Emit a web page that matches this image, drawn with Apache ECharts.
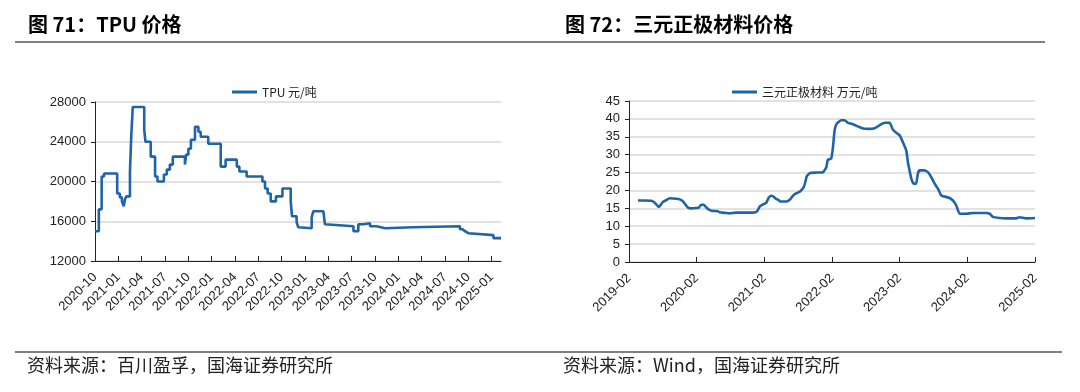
<!DOCTYPE html>
<html><head><meta charset="utf-8">
<script src="https://cdn.jsdelivr.net/npm/echarts@6/dist/echarts.min.js"></script>
<style>html,body{margin:0;padding:0;background:#fff}#c{width:1080px;height:392px}</style>
</head><body><div id="c"></div>
<script>
// ---- TPU price (元/吨) ----
const tpuDates = ['2020-10-01','2020-10-16','2020-10-27','2020-11-06','2020-12-27','2021-01-07','2021-01-15','2021-01-22','2021-01-27','2021-02-02',
  '2021-02-16','2021-02-21','2021-02-27','2021-04-11','2021-04-16','2021-05-06','2021-05-23','2021-06-02','2021-06-27','2021-07-08',
  '2021-07-20','2021-08-01','2021-09-18','2021-09-23','2021-10-01','2021-10-11','2021-10-27','2021-11-10','2021-11-19','2021-12-18',
  '2022-02-06','2022-02-25','2022-04-08','2022-04-18','2022-05-16','2022-07-17','2022-07-27','2022-08-07','2022-08-19','2022-09-09',
  '2022-10-04','2022-11-06','2022-11-11','2022-11-29','2022-12-05','2022-12-12','2023-01-27','2023-02-03','2023-03-12','2023-03-18',
  '2023-03-25','2023-07-08','2023-07-27','2023-08-16','2023-09-12','2023-10-07','2023-11-10','2024-02-28','2024-08-29','2024-09-09',
  '2024-09-18','2024-10-01','2025-01-08','2025-02-07'];
const tpuValues = [15000,17200,20500,20800,18800,18400,18000,17500,18200,18500,
  21000,24500,27500,25200,24000,22500,20500,20000,20700,21200,
  21700,22500,21700,22700,23300,24200,25500,25000,24500,23800,
  21500,22200,21500,21000,20500,20000,19300,18800,18000,18500,
  19300,18000,16500,15900,15400,15300,16400,17000,16800,15700,
  15500,15000,15700,15800,15500,15300,15400,15500,15200,15000,
  14800,14600,14300,14300];
const tpuTickLabels = ['2020-10','2021-01','2021-04','2021-07','2021-10','2022-01','2022-04','2022-07','2022-10',
  '2023-01','2023-04','2023-07','2023-10','2024-01','2024-04','2024-07','2024-10','2025-01'];
const tpuYMin = 12000, tpuYMax = 28000, tpuYStep = 4000;

// ---- NMC cathode price (万元/吨) ----
const nmcDates = ['2019-03-19','2019-04-24','2019-06-01','2019-06-17','2019-06-30','2019-07-09','2019-07-18','2019-08-02','2019-08-20','2019-09-07',
  '2019-10-13','2019-10-31','2019-11-18','2019-12-02','2019-12-15','2020-01-02','2020-01-29','2020-02-13','2020-02-25','2020-03-08',
  '2020-03-22','2020-04-01','2020-04-19','2020-05-24','2020-06-03','2020-07-08','2020-07-26','2020-09-01','2020-11-30','2020-12-18',
  '2020-12-27','2021-01-06','2021-01-24','2021-02-11','2021-02-25','2021-03-08','2021-03-22','2021-04-04','2021-04-18','2021-04-25',
  '2021-05-28','2021-06-15','2021-07-03','2021-07-17','2021-08-05','2021-08-17','2021-09-01','2021-09-10','2021-09-17','2021-10-05',
  '2021-11-07','2021-12-13','2022-01-01','2022-01-09','2022-01-27','2022-02-06','2022-02-15','2022-02-27','2022-03-20','2022-04-08',
  '2022-04-26','2022-05-23','2022-06-19','2022-07-16','2022-08-21','2022-09-18','2022-10-14','2022-11-11','2022-12-08','2022-12-25',
  '2023-01-13','2023-02-01','2023-02-18','2023-03-06','2023-03-15','2023-03-24','2023-04-03','2023-04-15','2023-04-29','2023-05-08',
  '2023-05-17','2023-06-13','2023-07-01','2023-07-19','2023-08-07','2023-08-25','2023-09-12','2023-09-30','2023-10-27','2023-11-14',
  '2023-12-02','2023-12-20','2024-01-25','2024-03-01','2024-05-12','2024-05-30','2024-06-17','2024-07-23','2024-08-28','2024-10-21',
  '2024-11-09','2024-12-15','2025-02-01'];
const nmcValues = [17.2,17.2,17.1,16.6,15.9,15.4,15.8,16.8,17.3,17.8,
  17.7,17.5,17.0,16.0,15.2,15.0,15.1,15.2,16.0,16.0,
  15.3,14.8,14.3,14.2,13.9,13.7,13.6,13.8,13.8,14.0,
  14.5,15.5,16.1,16.5,18.0,18.5,18.2,17.6,17.3,16.9,
  16.9,17.3,18.5,19.1,19.5,20.0,21.0,22.5,24.0,24.9,
  25.0,25.1,26.5,28.6,28.9,32.0,36.8,38.7,39.6,39.6,
  38.9,38.5,37.9,37.3,37.2,37.4,38.2,38.9,38.9,37.0,
  36.1,35.4,33.5,31.2,27.9,25.6,23.3,21.9,21.9,24.7,
  25.6,25.6,25.1,23.7,21.9,20.5,18.6,18.3,17.9,17.2,
  15.8,13.5,13.5,13.7,13.7,13.5,12.6,12.3,12.2,12.2,
  12.5,12.2,12.3];
const nmcTickLabels = ['2019-02','2020-02','2021-02','2022-02','2023-02','2024-02','2025-02'];
const nmcYMin = 0, nmcYMax = 45, nmcYStep = 5;

function monthIndex(s, base) {
  const p = s.split('-').map(Number), b = base.split('-').map(Number);
  return (p[0] - b[0]) * 12 + (p[1] - b[1]) + ((p[2] || 1) - 1) / 30.4;
}
const tpuBase = tpuTickLabels[0], nmcBase = nmcTickLabels[0];
const tpuData = tpuDates.map((d, i) => [monthIndex(d, tpuBase), tpuValues[i]]);
const nmcData = nmcDates.map((d, i) => [monthIndex(d, nmcBase), nmcValues[i]]);
const tpuTicks = tpuTickLabels.map(l => monthIndex(l, tpuBase));
const nmcTicks = nmcTickLabels.map(l => monthIndex(l, nmcBase));
function labelFor(ticks, labels) {
  return v => { const i = ticks.findIndex(t => Math.abs(t - v) < 1e-6); return i >= 0 ? labels[i] : ''; };
}

const LAT = '"Liberation Sans", Arial, sans-serif';
const CJK = '"Noto Sans CJK SC", sans-serif';
const BLUE = '#1f64a8';

function xAxisCfg(gi, ticks, labels, max) {
  return {
    type: 'value', gridIndex: gi, min: 0, max: max,
    axisLine: { show: true, lineStyle: { color: '#222', width: 1 } },
    axisTick: { show: true, inside: true, length: 5, lineStyle: { color: '#222' }, customValues: ticks },
    axisLabel: { rotate: 45, margin: 14, fontFamily: LAT, fontSize: 13, color: '#222',
      customValues: ticks, formatter: labelFor(ticks, labels) },
    splitLine: { show: false }
  };
}
function yAxisCfg(gi, min, max, step) {
  return {
    type: 'value', gridIndex: gi, min: min, max: max, interval: step,
    axisLine: { show: true, lineStyle: { color: '#222', width: 1 } },
    axisTick: { show: true, inside: false, length: 4, lineStyle: { color: '#222' } },
    axisLabel: { margin: 9, fontFamily: LAT, fontSize: 13, color: '#222', formatter: v => String(v) },
    splitLine: { show: true, lineStyle: { color: '#d9d9d9', width: 1.5 } }
  };
}

const chart = echarts.init(document.getElementById('c'), null, { renderer: 'canvas' });
chart.setOption({
  animation: false,
  backgroundColor: '#fff',
  grid: [
    { left: 95, top: 102, width: 406, height: 159, containLabel: false },
    { left: 629, top: 101, width: 406, height: 161, containLabel: false }
  ],
  xAxis: [
    xAxisCfg(0, tpuTicks, tpuTickLabels, tpuData[tpuData.length - 1][0]),
    xAxisCfg(1, nmcTicks, nmcTickLabels, nmcTicks[nmcTicks.length - 1])
  ],
  yAxis: [
    yAxisCfg(0, tpuYMin, tpuYMax, tpuYStep),
    yAxisCfg(1, nmcYMin, nmcYMax, nmcYStep)
  ],
  legend: [
    { data: ['TPU 元/吨'], left: 227, top: 81, icon: 'rect', itemWidth: 25, itemHeight: 3, itemGap: 5,
      textStyle: { fontFamily: CJK, fontSize: 12, color: '#222' } },
    { data: ['三元正极材料 万元/吨'], left: 727, top: 81, icon: 'rect', itemWidth: 25, itemHeight: 3, itemGap: 5,
      textStyle: { fontFamily: CJK, fontSize: 12, color: '#222' } }
  ],
  series: [
    { name: 'TPU 元/吨', type: 'line', xAxisIndex: 0, yAxisIndex: 0, data: tpuData, step: 'end',
      symbol: 'none', lineStyle: { color: BLUE, width: 2.6 }, itemStyle: { color: BLUE } },
    { name: '三元正极材料 万元/吨', type: 'line', xAxisIndex: 1, yAxisIndex: 1, data: nmcData, smooth: 0.15,
      symbol: 'none', lineStyle: { color: BLUE, width: 2.6 }, itemStyle: { color: BLUE } }
  ],
  graphic: [
    { type: 'text', left: 28, top: 14, style: { text: '图 71：TPU 价格', font: 'bold 20px "Noto Sans CJK SC", sans-serif', fill: '#000' } },
    { type: 'text', left: 565, top: 14, style: { text: '图 72：三元正极材料价格', font: 'bold 20px "Noto Sans CJK SC", sans-serif', fill: '#000' } },
    { type: 'line', shape: { x1: 15, y1: 42, x2: 1045, y2: 42 }, style: { stroke: '#7f7f7f', lineWidth: 2 } },
    { type: 'line', shape: { x1: 15, y1: 352, x2: 1062, y2: 352 }, style: { stroke: '#7f7f7f', lineWidth: 2 } },
    { type: 'text', left: 27, top: 356, style: { text: '资料来源：百川盈孚，国海证券研究所', font: '18px "Noto Sans CJK SC", sans-serif', fill: '#222' } },
    { type: 'text', left: 563, top: 356, style: { text: '资料来源：Wind，国海证券研究所', font: '18px "Noto Sans CJK SC", sans-serif', fill: '#222' } }
  ]
});
</script>
</body></html>
